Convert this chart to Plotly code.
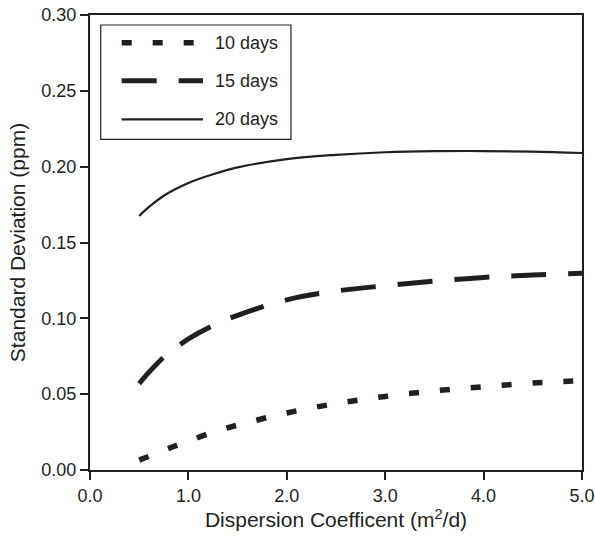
import plotly.graph_objects as go

# Dispersion coefficient (m^2/d)
dispersion = [0.5, 0.6, 0.75, 0.85, 1.0, 1.25, 1.5, 2.0, 2.5, 3.0, 3.5, 4.0, 4.5, 5.0]

# Standard deviation (ppm) for each simulation length
sd_10_days = [0.0065, 0.009, 0.013, 0.0155, 0.019, 0.025, 0.0296, 0.0376, 0.0438, 0.0485, 0.0522, 0.0549, 0.0573, 0.059]
sd_15_days = [0.057, 0.0645, 0.0745, 0.0795, 0.0865, 0.0953, 0.102, 0.1122, 0.118, 0.1215, 0.1245, 0.127, 0.1285, 0.1298]
sd_20_days = [0.1675, 0.1735, 0.1808, 0.1846, 0.1893, 0.1950, 0.1995, 0.2050, 0.2078, 0.2095, 0.2102, 0.2103, 0.2099, 0.2090]

series_names = ["10 days", "15 days", "20 days"]
series_values = [sd_10_days, sd_15_days, sd_20_days]
series_dash = ["10px,21px", "35px,22px", "solid"]
series_width = [5.5, 5, 2.2]

x_ticks = [0, 1, 2, 3, 4, 5]
y_ticks = [0.0, 0.05, 0.10, 0.15, 0.20, 0.25, 0.30]

INK = "#231f20"
FONT = "Liberation Sans, Arial, sans-serif"

fig = go.Figure()
for name, vals, dash, w in zip(series_names, series_values, series_dash, series_width):
    fig.add_trace(go.Scatter(
        x=dispersion, y=vals, name=name, mode="lines",
        line=dict(color=INK, width=w, dash=dash, shape="spline", smoothing=1.0),
        showlegend=False,
    ))

# Boxed legend in the upper-left corner of the plot area
leg_x0, leg_x1 = 0.0218, 0.4085
leg_y0, leg_y1 = 0.7268, 0.978
row_y = [0.9391, 0.8556, 0.7708]
fig.add_shape(type="rect", xref="paper", yref="paper",
              x0=leg_x0, x1=leg_x1, y0=leg_y0, y1=leg_y1,
              line=dict(color=INK, width=1.2), fillcolor="white")
for name, dash, w, yy in zip(series_names, series_dash, series_width, row_y):
    fig.add_shape(type="line", xref="paper", yref="paper",
                  x0=0.0644, x1=0.2297, y0=yy, y1=yy,
                  line=dict(color=INK, width=w, dash=dash))
    fig.add_annotation(xref="paper", yref="paper", x=0.25, y=yy,
                       text=name, showarrow=False, xanchor="left", yanchor="middle",
                       font=dict(family=FONT, size=18, color=INK))

axis_common = dict(
    showline=True, linecolor=INK, linewidth=2, mirror=True,
    ticks="outside", ticklen=8, tickwidth=2, tickcolor=INK,
    showgrid=False, zeroline=False,
    tickfont=dict(family=FONT, size=18, color=INK),
)

fig.update_xaxes(
    range=[0, 5], tickvals=x_ticks, tickformat=".1f",
    title=dict(text="Dispersion Coefficent (m<sup>2</sup>/d)",
               font=dict(family=FONT, size=21, color=INK), standoff=8),
    **axis_common,
)
fig.update_yaxes(
    range=[0, 0.30], tickvals=y_ticks, tickformat=".2f",
    title=dict(text="Standard Deviation (ppm)",
               font=dict(family=FONT, size=21, color=INK), standoff=10),
    **axis_common,
)

fig.update_layout(
    width=595, height=539,
    margin=dict(l=90, r=13, t=15, b=69, autoexpand=False),
    paper_bgcolor="white", plot_bgcolor="white",
    font=dict(family=FONT, color=INK),
)

fig.write_html("out.html")
